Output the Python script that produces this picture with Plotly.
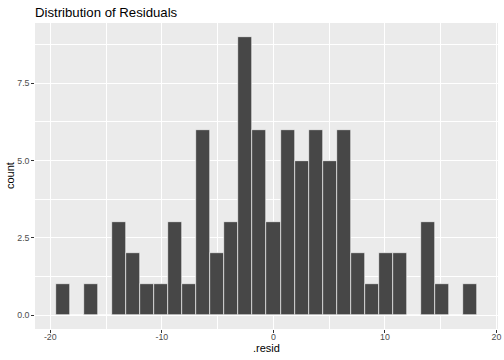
import plotly.graph_objects as go

# Histogram bin centers (.resid) and counts
bin_centers = [-18.85 + i * 1.2575 for i in range(30)]
counts = [1, 0, 1, 0, 3, 2, 1, 1, 3, 1, 6, 2, 3, 9, 6, 3, 6, 5, 6, 5, 6, 2, 1, 2, 2, 0, 3, 1, 0, 1]
x_ticks = [-20, -10, 0, 10, 20]
x_tick_labels = ["-20", "-10", "0", "10", "20"]
y_ticks = [0, 2.5, 5, 7.5]
y_tick_labels = ["0.0", "2.5", "5.0", "7.5"]

binwidth = 1.2575

fig = go.Figure(go.Bar(
    x=bin_centers, y=counts, width=binwidth,
    marker=dict(color="#474747", line=dict(color="white", width=0.6)),
    hoverinfo="x+y",
))

font = "Liberation Sans, Arial, sans-serif"
L, R, T, B = 35, 6, 23, 31
fig.update_layout(
    width=504, height=360,
    margin=dict(l=L, r=R, t=T, b=B, autoexpand=False),
    paper_bgcolor="white", plot_bgcolor="#EBEBEB",
    bargap=0,
    showlegend=False,
    title=dict(text="Distribution of Residuals", x=35/504, xanchor="left",
               y=1 - 12/360, yanchor="middle", automargin=False,
               font=dict(family=font, size=13.2, color="black")),
    font=dict(family=font),
    annotations=[
        dict(text=".resid", xref="paper", yref="paper", x=0.5, y=-(348 - (360 - B)) / (360 - T - B),
             xanchor="center", yanchor="middle", showarrow=False, borderpad=0,
             font=dict(size=11, color="black", family=font)),
        dict(text="count", xref="paper", yref="paper", x=-(L - 10) / (504 - L - R), y=0.5,
             xanchor="center", yanchor="middle", showarrow=False, textangle=-90, borderpad=0,
             font=dict(size=11, color="black", family=font)),
    ],
)
fig.update_xaxes(
    range=[-21.37, 20.14], tickvals=x_ticks, ticktext=x_tick_labels, automargin=False,
    showgrid=True, gridcolor="white", gridwidth=1.1, zeroline=False,
    ticks="outside", ticklen=2.75, tickwidth=1, tickcolor="#333333", ticklabelstandoff=-3,
    tickfont=dict(size=8.8, color="#4D4D4D", family=font),
    minor=dict(tickvals=[-15, -5, 5, 15], showgrid=True, gridcolor="white", gridwidth=0.55, ticks=""),
    showline=False,
)
fig.update_yaxes(
    range=[-0.45, 9.45], tickvals=y_ticks, ticktext=y_tick_labels, automargin=False,
    showgrid=True, gridcolor="white", gridwidth=1.1, zeroline=False,
    ticks="outside", ticklen=2.75, tickwidth=1, tickcolor="#333333",
    tickfont=dict(size=8.8, color="#4D4D4D", family=font),
    minor=dict(tickvals=[1.25, 3.75, 6.25, 8.75], showgrid=True, gridcolor="white", gridwidth=0.55, ticks=""),
    showline=False,
)

fig.write_html("out.html", config={"displayModeBar": False},
               post_script="document.body.style.margin='0';document.body.style.padding='0';")
